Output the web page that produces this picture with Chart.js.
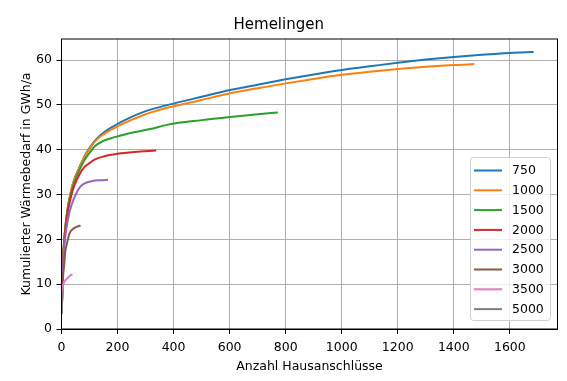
<!DOCTYPE html>
<html>
<head>
<meta charset="utf-8">
<script src="https://cdn.jsdelivr.net/npm/chart.js@4.4.1/dist/chart.umd.min.js"></script>
<style>
  body { margin: 0; background: #fff; }
  #chart { display: block; }
</style>
</head>
<body>
<canvas id="chart" width="567" height="381"></canvas>
<script>
// series labels (threshold values) and colours
const seriesLabels = ['750', '1000', '1500', '2000', '2500', '3000', '3500', '5000'];
const seriesColors = ['#1f77b4', '#ff7f0e', '#2ca02c', '#d62728', '#9467bd', '#8c564b', '#e377c2', '#7f7f7f'];

// x = Anzahl Hausanschlüsse, y = kumulierter Wärmebedarf (GWh/a)
const x750 = [1, 3, 6, 10, 15, 23, 35, 47, 65, 80, 100, 125, 154, 190, 226, 300, 380, 500, 602, 700, 800, 900, 1000, 1100, 1200, 1300, 1400, 1500, 1600, 1685];
const y750 = [3.5, 10, 16, 20, 23.5, 27.3, 31, 33.6, 36.2, 38.3, 40.4, 42.4, 44, 45.4, 46.6, 48.6, 50.0, 51.8, 53.3, 54.5, 55.7, 56.8, 57.8, 58.6, 59.4, 60.1, 60.7, 61.2, 61.6, 61.8];

const x1000 = [1, 3, 6, 10, 15, 23, 35, 47, 65, 80, 100, 125, 154, 190, 226, 300, 380, 500, 602, 700, 800, 900, 1000, 1100, 1200, 1300, 1400, 1473];
const y1000 = [3.5, 10, 16, 20, 23.5, 27.3, 31, 33.6, 36.1, 38.2, 40.2, 42.2, 43.6, 44.9, 46.0, 47.9, 49.4, 51.1, 52.6, 53.7, 54.8, 55.8, 56.7, 57.4, 58.0, 58.5, 58.9, 59.1];

const x1500 = [1, 3, 6, 10, 15, 23, 35, 47, 65, 80, 100, 118, 150, 190, 226, 316, 380, 500, 602, 700, 772];
const y1500 = [3.5, 10, 16, 20, 23.3, 27, 30.5, 33, 35.6, 37.5, 39.3, 40.7, 42.0, 42.8, 43.4, 44.6, 45.6, 46.6, 47.3, 47.9, 48.3];

const x2000 = [1, 3, 6, 10, 15, 23, 35, 47, 65, 80, 100, 118, 150, 200, 260, 338];
const y2000 = [3.5, 10, 15.5, 19.5, 22.8, 26.3, 29.8, 32.2, 34.6, 36.0, 37.0, 37.8, 38.5, 39.1, 39.5, 39.8];

const x2500 = [1, 3, 6, 10, 17, 29, 47, 65, 83, 110, 140, 166];
const y2500 = [3.5, 9.5, 14.5, 18.5, 22.1, 26.2, 29.5, 31.6, 32.5, 33.0, 33.2, 33.3];

const x3000 = [1, 3, 6, 9, 14, 17, 29, 45, 68];
const y3000 = [3.5, 8, 12, 13.9, 17.6, 18.4, 21.4, 22.5, 23.1];

const x3500 = [1, 2, 4, 8, 14, 21, 30, 39];
const y3500 = [3.5, 7.5, 9.2, 10.3, 10.9, 11.3, 11.9, 12.2];

const x5000 = [1, 2, 3];
const y5000 = [3.5, 6, 8.5];

const xValues = [x750, x1000, x1500, x2000, x2500, x3000, x3500, x5000];
const yValues = [y750, y1000, y1500, y2000, y2500, y3000, y3500, y5000];

// tick labels
const xTicks = [0, 200, 400, 600, 800, 1000, 1200, 1400, 1600];
const yTicks = [0, 10, 20, 30, 40, 50, 60];

const FONT = 'DejaVu Sans';

const datasets = seriesLabels.map((label, i) => ({
  label: label,
  data: xValues[i].map((x, j) => ({ x: x, y: yValues[i][j] })),
  borderColor: seriesColors[i],
  backgroundColor: seriesColors[i],
  borderWidth: 2,
  pointRadius: 0,
  cubicInterpolationMode: 'monotone',
  order: -i // later series on top, like matplotlib
}));

// frame around the plot area + legend box in the lower right
const framePlugin = {
  id: 'frame',
  afterDraw(chart) {
    const { ctx, chartArea: a } = chart;
    ctx.save();
    ctx.strokeStyle = '#000';
    ctx.lineWidth = 1;
    ctx.strokeRect(a.left, a.top, a.right - a.left, a.bottom - a.top);

    // legend
    const bx = 470.5, by = 157.5, bw = 80, bh = 163;
    ctx.fillStyle = 'rgba(255,255,255,0.8)';
    ctx.strokeStyle = '#d0d0d0';
    ctx.beginPath();
    ctx.roundRect(bx, by, bw, bh, 3);
    ctx.fill();
    ctx.stroke();
    ctx.font = '12.5px "' + FONT + '"';
    ctx.textBaseline = 'middle';
    ctx.textAlign = 'left';
    chart.data.datasets.forEach((ds, i) => {
      const y = 170.5 + i * 19.8;
      ctx.strokeStyle = ds.borderColor;
      ctx.lineWidth = 2;
      ctx.beginPath();
      ctx.moveTo(474, y);
      ctx.lineTo(502, y);
      ctx.stroke();
      ctx.fillStyle = '#000';
      ctx.fillText(ds.label, 512, y + 0.5);
    });
    ctx.restore();
  }
};

new Chart(document.getElementById('chart'), {
  type: 'line',
  data: { datasets: datasets },
  options: {
    responsive: false,
    animation: false,
    layout: { padding: { left: 0, right: 9.5, top: 0, bottom: 0 } },
    plugins: {
      legend: { display: false },
      tooltip: { enabled: false },
      title: {
        display: true,
        text: 'Hemelingen',
        color: '#000',
        font: { family: FONT, size: 15, weight: 'normal' },
        padding: { top: 16, bottom: 5 }
      }
    },
    scales: {
      x: {
        type: 'linear',
        min: 0,
        max: 1770,
        afterFit: (s) => { s.height = 52; },
        afterBuildTicks: (s) => { s.ticks = xTicks.map(v => ({ value: v })); },
        grid: { color: '#b0b0b0', lineWidth: 1, tickLength: 5, tickColor: '#000' },
        border: { color: '#000', width: 1 },
        ticks: {
          color: '#000', padding: 6, maxRotation: 0,
          font: { family: FONT, size: 12.5 },
          callback: (v) => String(v)
        },
        title: {
          display: true,
          text: 'Anzahl Hausanschlüsse',
          color: '#000',
          font: { family: FONT, size: 12.5 },
          padding: { top: 0, bottom: 6.5 }
        }
      },
      y: {
        type: 'linear',
        min: 0,
        max: 64.7,
        afterFit: (s) => { s.width = 61.5; },
        afterBuildTicks: (s) => { s.ticks = yTicks.map(v => ({ value: v })); },
        grid: { color: '#b0b0b0', lineWidth: 1, tickLength: 5, tickColor: '#000' },
        border: { color: '#000', width: 1 },
        ticks: {
          color: '#000', padding: 4.5,
          font: { family: FONT, size: 12.5 },
          callback: (v) => String(v)
        },
        title: {
          display: true,
          text: 'Kumulierter Wärmebedarf in GWh/a',
          color: '#000',
          font: { family: FONT, size: 12.5 },
          padding: { top: 19.5, bottom: 0 }
        }
      }
    }
  },
  plugins: [framePlugin]
});
</script>
</body>
</html>
